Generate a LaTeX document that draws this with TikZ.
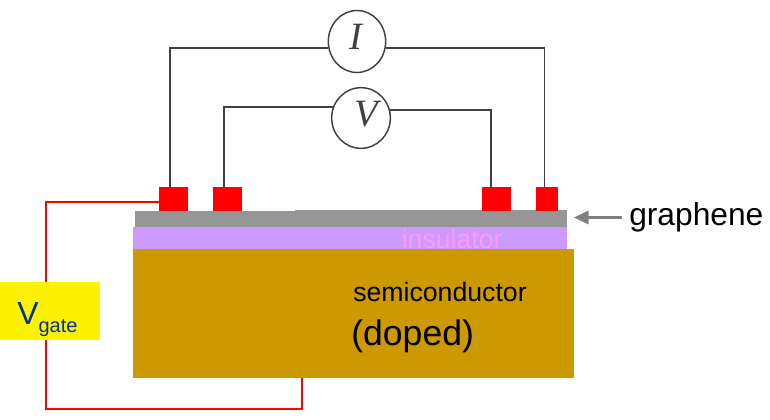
\documentclass[tikz,border=0pt]{standalone}
\usepackage{fontspec}
\setmainfont{Liberation Sans}
\newfontfamily\meterfont{Liberation Serif}
\usetikzlibrary{arrows.meta,positioning,calc,shapes.geometric}
\definecolor{gold}{HTML}{CC9900}
\definecolor{lilac}{HTML}{CC99FF}
\definecolor{pinktext}{HTML}{FF99FF}
\definecolor{graphite}{HTML}{969696}
\definecolor{gateblue}{HTML}{003399}
\definecolor{wiregray}{HTML}{404040}

\begin{document}
\begin{tikzpicture}[x=0.75pt,y=-0.75pt]
    \useasboundingbox (0,0) rectangle (770,419);

    \tikzset{layer/.style={draw=none,inner sep=0pt,minimum width=#1*0.75pt},
             contact/.style={draw=none,fill=red,inner sep=0pt,minimum height=18pt,minimum width=#1*0.75pt},
             meter/.style={draw=wiregray,ellipse,fill=white,inner sep=0pt,line width=1.1pt},
             metertxt/.style={inner sep=0pt,text=wiregray,font=\meterfont\fontsize{29}{29}\selectfont\itshape},
             label/.style={inner sep=0pt,anchor=base west},
             wire/.style={draw=wiregray,line width=1.4pt},
             gatewire/.style={draw=red,line width=1.1pt}}

    \node[layer=441,fill=gold,minimum height=96.75pt] at (353.5,313.5) (semi) {};
    \node[layer=434,fill=lilac,minimum height=16.5pt] at (350,238) (ins) {};
    \node[layer=432,fill=graphite,minimum height=12pt] at (351,219) (graphene) {};
    \node[layer=272,fill=graphite,minimum height=0.75pt] at (431,210.5) (grapheneB) {};

    \node[contact=29] at (173.5,199) (conA) {};
    \node[contact=29] at (227.5,199) (conB) {};
    \node[contact=29] at (496.5,199) (conC) {};
    \node[contact=22] at (546.7,199) (conD) {};

    \coordinate (tapA) at (170,187);
    \coordinate (tapB) at (224,187);
    \coordinate (tapC) at (491,187);
    \coordinate (tapD) at (544.5,187);

    \node[meter,minimum width=43pt,minimum height=46.5pt] at (357,41.5) (mI) {};
    \node[meter,minimum width=44pt,minimum height=45.5pt] at (361,118) (mV) {};
    \node[metertxt] at (356,37) (mItxt) {I};
    \node[metertxt] at (366,114) (mVtxt) {V};

    \draw[wire] (mI.193) -| (tapA);
    \draw[wire] (mI.-13) -| (tapD);
    \draw[wire] (mV.158) -| (tapB);
    \draw[wire] (mV.16.5) -| (tapC);

    \node[draw=none,fill=yellow,inner sep=0pt,minimum width=75pt,minimum height=43.5pt] at (50,311) (vgate) {};
    \node[label,text=gateblue] at (17,324) (vgatetxt)
        {\fontsize{24}{24}\selectfont V\raisebox{-6pt}{\fontsize{15}{15}\selectfont gate}};

    \coordinate (gateC) at (46,202);
    \coordinate (gateD) at (46,409);
    \coordinate (gateE) at (302,409);
    \coordinate (gateB) at (302,378);
    \coordinate (gateT) at (46,282);
    \coordinate (gateU) at (46,340);
    \draw[gatewire] (conA.west |- gateC) -- (gateC) -- (gateT);
    \draw[gatewire] (gateU) -- (gateD) -- (gateE) -- (gateB);

    \node[label,text=pinktext,font=\fontsize{20}{20}\selectfont] at (401.5,248) (instxt) {insulator};
    \node[label,font=\fontsize{20}{20}\selectfont] at (353,301.5) (semitxt) {semiconductor};
    \node[label,font=\fontsize{26.7}{26.7}\selectfont] at (351,345) (dopedtxt) {(doped)};
    \node[label,font=\fontsize{23.8}{23.8}\selectfont] at (629,225) (grtxt) {graphene};

    \coordinate (grtail) at (622,217.5);
    \coordinate (grtip) at (574,217.5);
    \draw[-{Triangle[length=11pt,width=10pt]},draw=gray,fill=gray,line width=1.8pt] (grtail) -- (grtip);
\end{tikzpicture}
\end{document}
